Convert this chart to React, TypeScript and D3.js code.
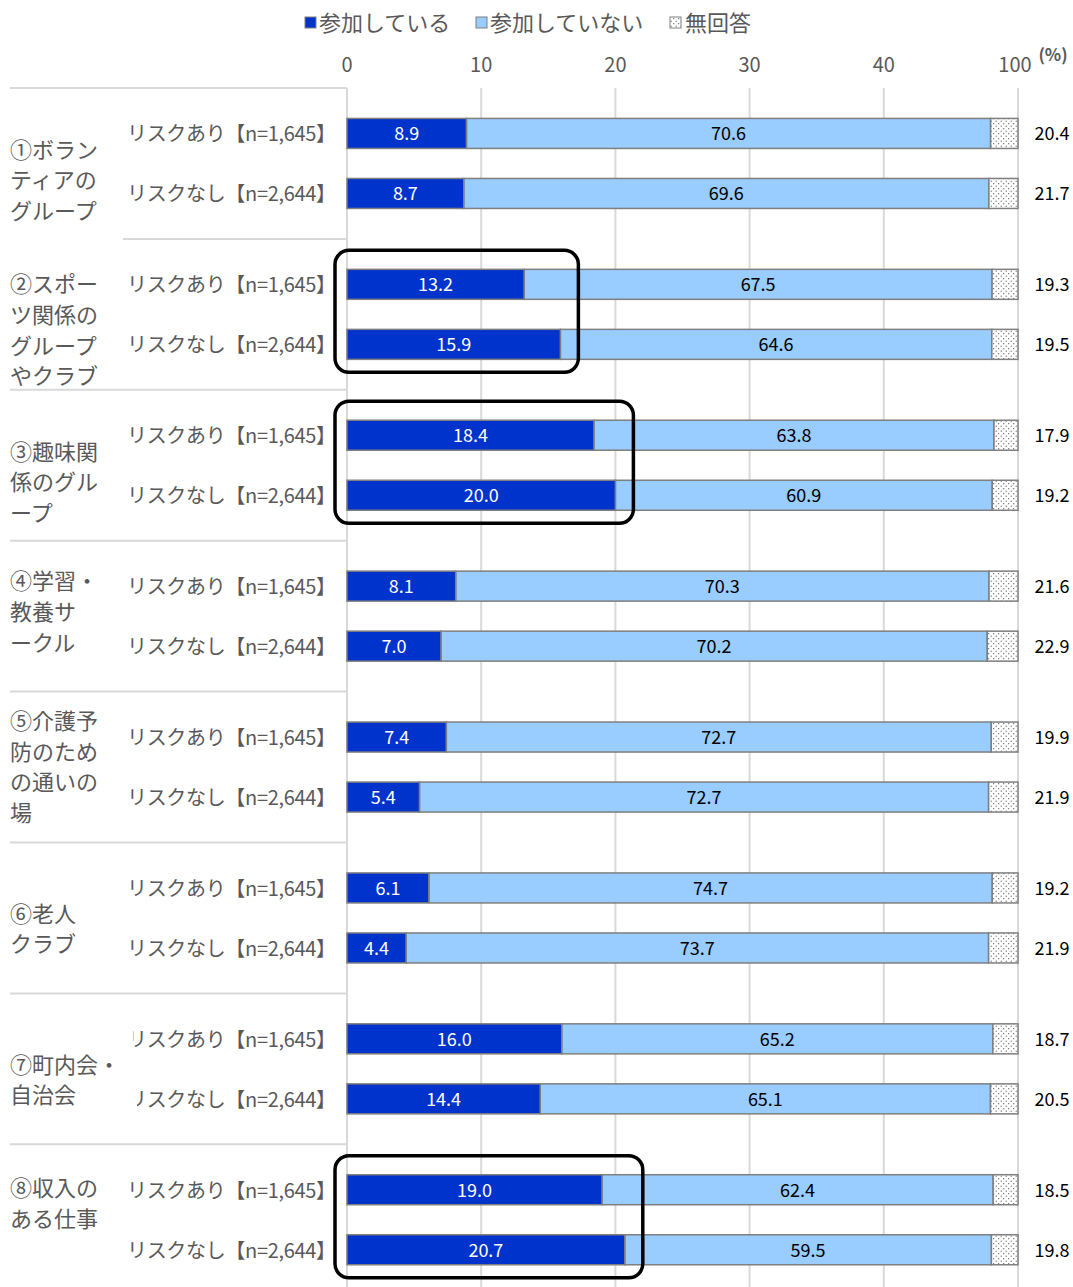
import React from "react";
import * as d3 from "d3";

const categories = [
  ["①ボラン", "ティアの", "グループ"],
  ["②スポー", "ツ関係の", "グループ", "やクラブ"],
  ["③趣味関", "係のグル", "ープ"],
  ["④学習・", "教養サ", "ークル"],
  ["⑤介護予", "防のため", "の通いの", "場"],
  ["⑥老人", "クラブ"],
  ["⑦町内会・", "自治会"],
  ["⑧収入の", "ある仕事"],
];
const groups = ["リスクあり【n=1,645】", "リスクなし【n=2,644】"];
const series = ["参加している", "参加していない", "無回答"];
const joined = [8.9, 8.7, 13.2, 15.9, 18.4, 20.0, 8.1, 7.0, 7.4, 5.4, 6.1, 4.4, 16.0, 14.4, 19.0, 20.7];
const notJoined = [70.6, 69.6, 67.5, 64.6, 63.8, 60.9, 70.3, 70.2, 72.7, 72.7, 74.7, 73.7, 65.2, 65.1, 62.4, 59.5];
const noAnswer = [20.4, 21.7, 19.3, 19.5, 17.9, 19.2, 21.6, 22.9, 19.9, 21.9, 19.2, 21.9, 18.7, 20.5, 18.5, 19.8];
const tickValues = [0, 10, 20, 30, 40, 50];
const tickLabels = ["0", "10", "20", "30", "40", "100"];
const highlighted = [1, 2, 7];
// vertical nudge of category label blocks (px) relative to block centre
const labelShift = [17, 16, 17, -4, 0, 11, 11, -16];

const W = 1073;
const H = 1287;
const DARK = "#0033CC";
const LIGHT = "#99CCFF";
const EDGE = "#7f7f7f";
const GRID = "#d9d9d9";
const TEXT = "#595959";
const FONT = "'Noto Sans CJK JP', 'Noto Sans', sans-serif";

export default function App() {
  const x = d3.scaleLinear().domain([0, 50]).range([347, 1018]);
  const catIdx = categories.map((_, i) => i);
  const yCat = d3.scaleBand<number>().domain(catIdx).range([88, 88 + 8 * 150.9]).padding(0);
  const B = yCat.bandwidth();
  const ySub = d3.scalePoint<number>().domain([0, 1]).range([0, B]).padding(0.757);
  const barH = 30;
  const rowY = (r: number) => (yCat(Math.floor(r / 2)) as number) + (ySub(r % 2) as number);

  const rows = joined.map((v, r) => {
    const cy = rowY(r);
    const x0 = x(0);
    const x1 = x(v);
    const x3 = x(50);
    const x2 = x(50 - noAnswer[r] / 10);
    return { r, cy, x0, x1, x2, x3 };
  });

  return (
    <div style={{ position: "absolute", left: 0, top: 0 }}>
      <svg width={W} height={H} style={{ display: "block", fontFamily: FONT }}>
        <defs>
          <pattern id="dots" width="5" height="5" patternUnits="userSpaceOnUse">
            <rect width="5" height="5" fill="#ffffff" />
            <circle cx="1.2" cy="1.2" r="0.6" fill="#555" />
            <circle cx="3.7" cy="3.7" r="0.6" fill="#555" />
          </pattern>
        </defs>
        <rect width={W} height={H} fill="#fff" />

        {/* legend */}
        <g fontSize={22} fill={TEXT}>
          <rect x={305} y={17} width={11} height={11} fill={DARK} stroke={EDGE} strokeWidth={1} />
          <text x={319} y={31}>{series[0]}</text>
          <rect x={476} y={17} width={11} height={11} fill={LIGHT} stroke={EDGE} strokeWidth={1} />
          <text x={490} y={31}>{series[1]}</text>
          <rect x={670} y={17} width={11} height={11} fill="url(#dots)" stroke={EDGE} strokeWidth={1} />
          <text x={685} y={31}>{series[2]}</text>
        </g>

        {/* gridlines */}
        {tickValues.map((t) => (
          <line key={t} x1={x(t)} x2={x(t)} y1={88} y2={H} stroke={GRID} strokeWidth={2} />
        ))}
        {/* tick labels */}
        {tickValues.map((t, i) => (
          <text key={"t" + t} x={x(t) - (i === 5 ? 3 : 0)} y={72} textAnchor="middle" fontSize={20} fill={TEXT}>
            {tickLabels[i]}
          </text>
        ))}
        <text x={1053} y={61} textAnchor="middle" fontSize={17} fontWeight="bold" fill={TEXT}>(%)</text>

        {/* category separators */}
        {d3.range(9).map((i) => {
          const yy = 88 + i * B;
          return (
            <line key={"s" + i} x1={i === 1 ? 123 : 10} x2={347} y1={yy} y2={yy} stroke={GRID} strokeWidth={2} />
          );
        })}

        {/* bars */}
        {rows.map((d) => (
          <g key={"b" + d.r}>
            <rect x={d.x1} y={d.cy - barH / 2} width={d.x2 - d.x1} height={barH} fill={LIGHT} stroke={EDGE} strokeWidth={1.5} />
            <rect x={d.x2} y={d.cy - barH / 2} width={d.x3 - d.x2} height={barH} fill="url(#dots)" stroke={EDGE} strokeWidth={1.5} />
            <rect x={d.x0} y={d.cy - barH / 2} width={d.x1 - d.x0} height={barH} fill={DARK} stroke={EDGE} strokeWidth={1.5} />
            <text x={(d.x0 + d.x1) / 2} y={d.cy + 7} textAnchor="middle" fontSize={18} fill="#fff">
              {joined[d.r].toFixed(1)}
            </text>
            <text x={(d.x1 + d.x2) / 2} y={d.cy + 7} textAnchor="middle" fontSize={18} fill="#000">
              {notJoined[d.r].toFixed(1)}
            </text>
            <text x={1052} y={d.cy + 7} textAnchor="middle" fontSize={18} fill="#000">
              {noAnswer[d.r].toFixed(1)}
            </text>
            <text x={127} y={d.cy + 8} fontSize={20} fill={TEXT} textLength={209} lengthAdjust="spacing">
              {groups[d.r % 2]}
            </text>
          </g>
        ))}

        {/* label box of category 7 partly hides its row labels */}
        <rect x={10} y={rowY(12) - 20} width={123} height={40} fill="#fff" />
        <rect x={10} y={rowY(13) - 20} width={127} height={40} fill="#fff" />

        {/* category labels */}
        {categories.map((lines, i) => {
          const lh = 30.7;
          const c = (yCat(i) as number) + B / 2 + labelShift[i];
          const top = c - ((lines.length - 1) * lh) / 2;
          return (
            <text key={"c" + i} fontSize={22} fill={TEXT}>
              {lines.map((l, k) => (
                <tspan key={k} x={10} y={top + k * lh + 8}>{l}</tspan>
              ))}
            </text>
          );
        })}

        {/* highlight boxes */}
        {highlighted.map((ci) => {
          const r0 = ci * 2;
          const r1 = ci * 2 + 1;
          const mx = Math.max(joined[r0], joined[r1]);
          const y0 = rowY(r0) - barH / 2 - 19;
          const y1 = rowY(r1) + barH / 2 + 13;
          const x0 = 335;
          const x1 = x(mx) + 18;
          return (
            <rect key={"h" + ci} x={x0} y={y0} width={x1 - x0} height={y1 - y0} rx={14} ry={14} fill="none" stroke="#000" strokeWidth={3.5} />
          );
        })}
      </svg>
    </div>
  );
}
